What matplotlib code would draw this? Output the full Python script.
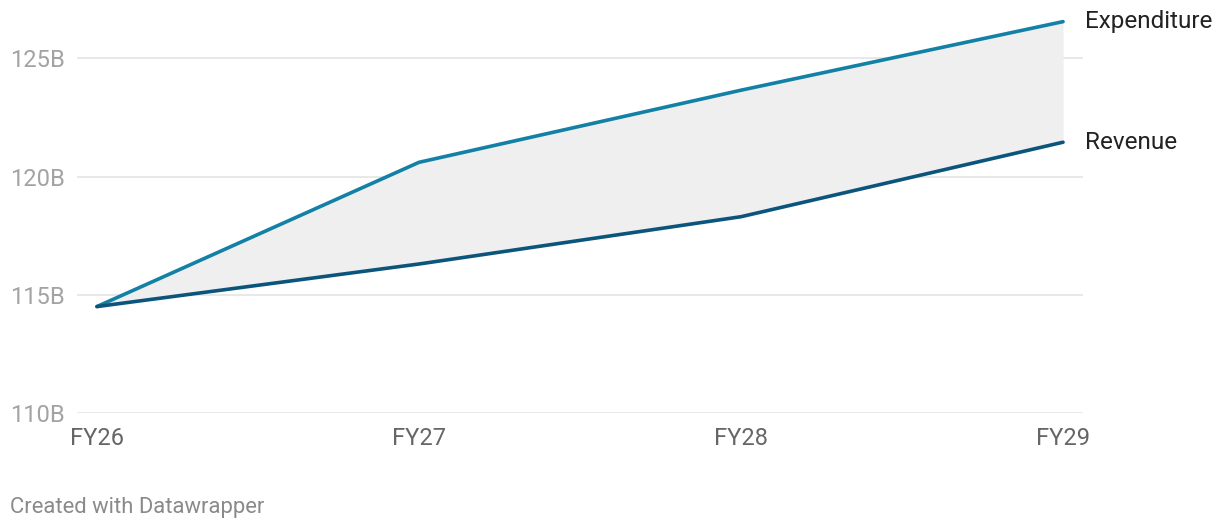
import matplotlib.pyplot as plt

plt.rcParams['font.family'] = ['Roboto', 'DejaVu Sans']

years = ["FY26", "FY27", "FY28", "FY29"]
expenditure = [114.5, 120.6, 123.65, 126.55]
revenue = [114.5, 116.3, 118.3, 121.45]
y_ticks = [110, 115, 120, 125]
y_labels = ["110B", "115B", "120B", "125B"]

exp_color = "#1380a6"
rev_color = "#0b557d"

fig = plt.figure(figsize=(12.2, 5.3), dpi=100)
ax = fig.add_axes([0.0631, 0.2208, 0.8246, 0.7509])

x = list(range(len(years)))
ax.fill_between(x, revenue, expenditure, color="#efefef", lw=0, zorder=1)
ax.plot(x, expenditure, color=exp_color, lw=2.6, solid_capstyle="round", zorder=3, clip_on=False)
ax.plot(x, revenue, color=rev_color, lw=2.6, solid_capstyle="round", zorder=3, clip_on=False)

ax.set_xlim(-0.062, 3.062)
ax.set_ylim(110, 126.83)

ax.set_yticks(y_ticks)
ax.set_yticklabels(y_labels)
ax.set_xticks(x)
ax.set_xticklabels(years)

for t in y_ticks:
    ax.axhline(t, color="#e1e1e1", lw=1.1, zorder=0)

for s in ax.spines.values():
    s.set_visible(False)
ax.tick_params(axis="y", length=0, pad=9, labelsize=17, labelcolor="#a3a3a3")
ax.tick_params(axis="x", length=0, pad=10, labelsize=17, labelcolor="#666666")

ax.text(3.068, expenditure[-1], "Expenditure", va="center", ha="left",
        fontsize=17.5, color="#222222", clip_on=False)
ax.text(3.068, revenue[-1], "Revenue", va="center", ha="left",
        fontsize=17.5, color="#222222", clip_on=False)

fig.text(10 / 1220, 1 - 507 / 530, "Created with Datawrapper", fontsize=15.8,
         color="#8a8a8a", va="center", ha="left")

plt.savefig("out.png", dpi=100)
plt.close()
